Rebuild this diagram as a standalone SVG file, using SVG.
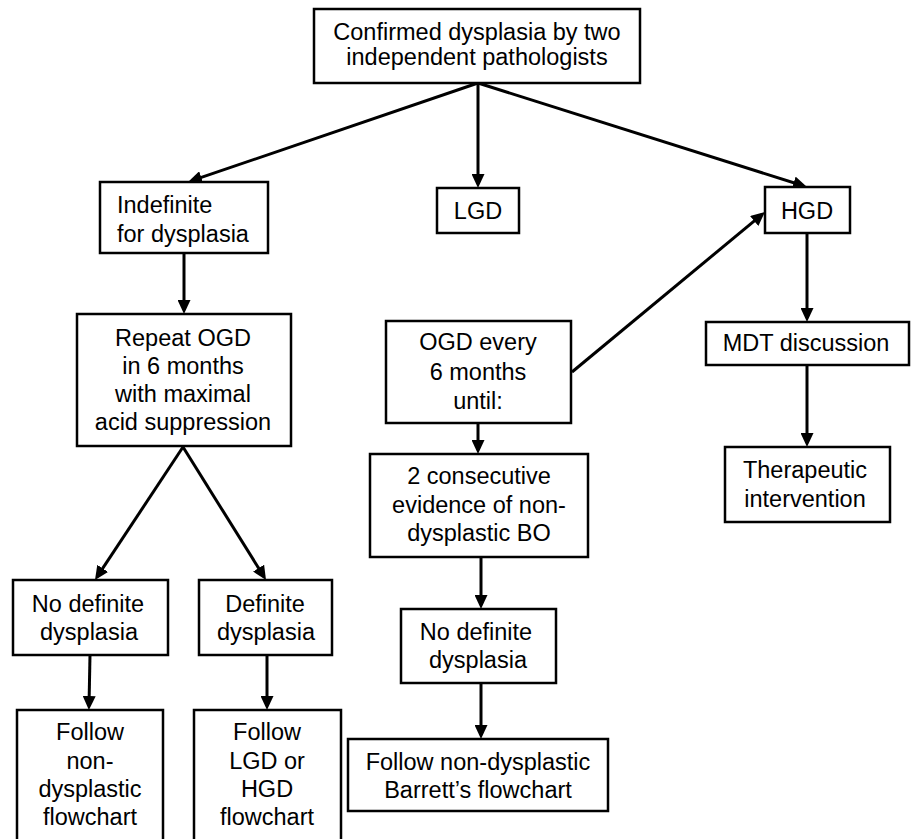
<svg xmlns="http://www.w3.org/2000/svg" width="914" height="839" viewBox="0 0 914 839">
<style>
.box{fill:#fff;stroke:#000;stroke-width:2.5}
.t{font-family:"Liberation Sans",Arial,sans-serif;font-size:23.5px;fill:#000;text-anchor:middle}
.l{text-anchor:start}
.c{stroke:#000;stroke-width:3;fill:none}
</style>
<defs>
<marker id="ah" markerUnits="userSpaceOnUse" markerWidth="14" markerHeight="13" viewBox="0 0 14 13" refX="10" refY="6.5" orient="auto">
<path d="M0,0 L14,6.5 L0,13 Z" fill="#000"/>
</marker>
</defs>
<rect width="914" height="839" fill="#fff"/>
<g id="connectors">
<line class="c" x1="478" y1="83" x2="478" y2="184" marker-end="url(#ah)"/>
<line class="c" x1="478" y1="83" x2="191.8" y2="180.7" marker-end="url(#ah)"/>
<line class="c" x1="478" y1="83" x2="803.2" y2="185.8" marker-end="url(#ah)"/>
<line class="c" x1="184" y1="253" x2="184" y2="310" marker-end="url(#ah)"/>
<line class="c" x1="572" y1="372" x2="761.9" y2="214.6" marker-end="url(#ah)"/>
<line class="c" x1="807" y1="233" x2="807" y2="318" marker-end="url(#ah)"/>
<line class="c" x1="807" y1="365" x2="807" y2="443" marker-end="url(#ah)"/>
<line class="c" x1="183" y1="447" x2="97.2" y2="576.7" marker-end="url(#ah)"/>
<line class="c" x1="183" y1="447" x2="263.9" y2="576.6" marker-end="url(#ah)"/>
<line class="c" x1="90" y1="655" x2="89" y2="706" marker-end="url(#ah)"/>
<line class="c" x1="267" y1="655" x2="267" y2="706" marker-end="url(#ah)"/>
<line class="c" x1="478" y1="423" x2="478" y2="450" marker-end="url(#ah)"/>
<line class="c" x1="481" y1="557" x2="481" y2="605" marker-end="url(#ah)"/>
<line class="c" x1="481" y1="683" x2="481" y2="735" marker-end="url(#ah)"/>
</g>
<g id="confirmed">
<rect class="box" x="314" y="9" width="326" height="74"/>
<text class="t" x="477" y="39.5">Confirmed dysplasia by two</text>
<text class="t" x="477" y="64.5">independent pathologists</text>
</g>
<g id="indefinite">
<rect class="box" x="100" y="182" width="168" height="71"/>
<text class="t l" x="117" y="213">Indefinite</text>
<text class="t l" x="117" y="242">for dysplasia</text>
</g>
<g id="lgd">
<rect class="box" x="437" y="188" width="82" height="45"/>
<text class="t" x="478" y="219">LGD</text>
</g>
<g id="hgd">
<rect class="box" x="765" y="187" width="85" height="46"/>
<text class="t" x="807" y="219">HGD</text>
</g>
<g id="repeat">
<rect class="box" x="77" y="314" width="214" height="132"/>
<text class="t" x="183" y="346">Repeat OGD</text>
<text class="t" x="183" y="374">in 6 months</text>
<text class="t" x="183" y="402">with maximal</text>
<text class="t" x="183" y="430">acid suppression</text>
</g>
<g id="ogd-every">
<rect class="box" x="386" y="321" width="185" height="102"/>
<text class="t" x="478" y="350">OGD every</text>
<text class="t" x="478" y="380">6 months</text>
<text class="t" x="478" y="409">until:</text>
</g>
<g id="consecutive">
<rect class="box" x="370" y="454" width="218" height="103"/>
<text class="t" x="479" y="484">2 consecutive</text>
<text class="t" x="479" y="513">evidence of non-</text>
<text class="t" x="479" y="541">dysplastic BO</text>
</g>
<g id="mdt">
<rect class="box" x="706" y="322" width="203" height="43"/>
<text class="t" x="806" y="351">MDT discussion</text>
</g>
<g id="therapeutic">
<rect class="box" x="725" y="447" width="165" height="75"/>
<text class="t" x="805" y="478">Therapeutic</text>
<text class="t" x="805" y="507">intervention</text>
</g>
<g id="no-definite-left">
<rect class="box" x="13" y="580" width="155" height="75"/>
<text class="t" x="88" y="612">No definite</text>
<text class="t" x="89" y="640">dysplasia</text>
</g>
<g id="definite">
<rect class="box" x="199" y="580" width="133" height="75"/>
<text class="t" x="265" y="612">Definite</text>
<text class="t" x="266" y="640">dysplasia</text>
</g>
<g id="follow-non-dysplastic">
<rect class="box" x="17" y="710" width="146" height="140"/>
<text class="t" x="90" y="740">Follow</text>
<text class="t" x="90" y="768.5">non-</text>
<text class="t" x="90" y="797">dysplastic</text>
<text class="t" x="90" y="825">flowchart</text>
</g>
<g id="follow-lgd-hgd">
<rect class="box" x="194" y="710" width="147" height="140"/>
<text class="t" x="267" y="740">Follow</text>
<text class="t" x="267" y="768.5">LGD or</text>
<text class="t" x="267" y="797">HGD</text>
<text class="t" x="267" y="825">flowchart</text>
</g>
<g id="no-definite-mid">
<rect class="box" x="401" y="609" width="155" height="74"/>
<text class="t" x="476" y="640">No definite</text>
<text class="t" x="478" y="668">dysplasia</text>
</g>
<g id="follow-barrett">
<rect class="box" x="348" y="739" width="260" height="72"/>
<text class="t" x="478" y="770">Follow non-dysplastic</text>
<text class="t" x="478" y="798">Barrett’s flowchart</text>
</g>
</svg>
